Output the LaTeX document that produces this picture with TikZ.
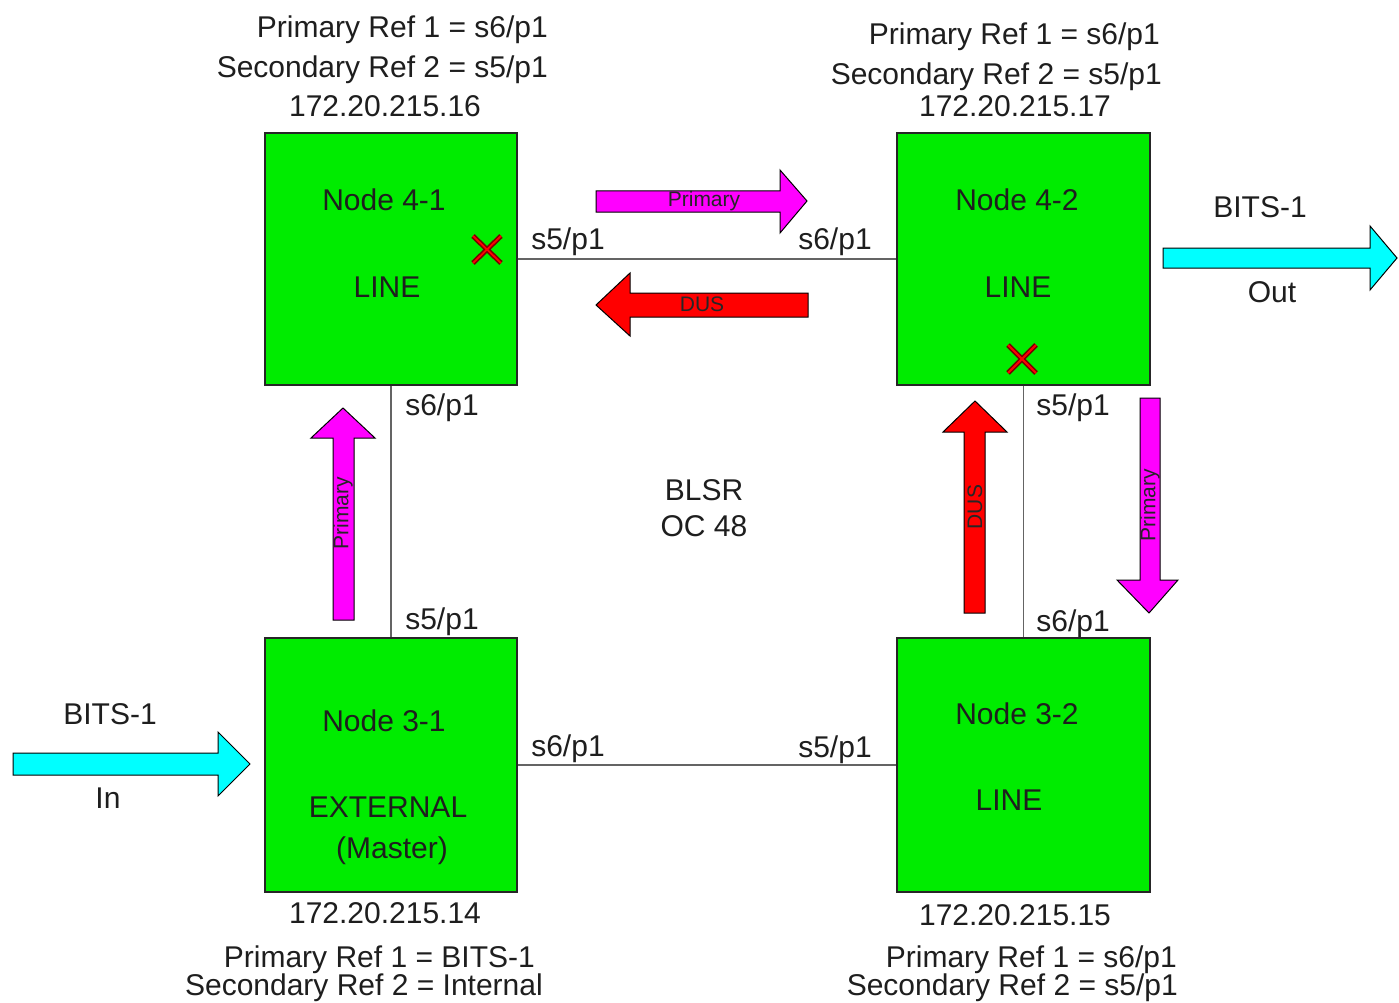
\documentclass[tikz,border=0pt]{standalone}
\usepackage{fontspec}
\setmainfont{Liberation Sans}
\definecolor{boxgreen}{RGB}{0,236,0}
\definecolor{mag}{RGB}{255,0,255}
\definecolor{cy}{RGB}{0,255,255}
\definecolor{rd}{RGB}{255,0,0}
\definecolor{xdark}{RGB}{120,0,0}
\definecolor{txtgray}{RGB}{30,30,30}
\definecolor{linegray}{RGB}{100,100,100}
\begin{document}
\begin{tikzpicture}[x=1pt,y=-1pt,
  box/.style={draw=black!85, fill=boxgreen, minimum width=252pt, minimum height=254pt, inner sep=0pt, line width=1.2pt},
  link/.style={draw=linegray, line width=1.6pt},
  lbl/.style={font=\fontsize{30}{31}\selectfont, text=txtgray, inner sep=0pt, anchor=base},
  lblr/.style={lbl, anchor=base east},
  alab/.style={font=\fontsize{21}{22}\selectfont, text=black!85, inner sep=0pt},
  fat/.style={draw=black, line width=1pt, line join=miter},
  xmark/.style={line width=5pt, draw=xdark},
  xin/.style={line width=1.8pt, draw=rd}
]
\fill[white] (0,0) rectangle (1399,1003);
\useasboundingbox (0,0) rectangle (1399,1003);

% boxes
\node[box, minimum height=252pt] (n41) at (391,259) {};
\node[box, minimum width=253pt, minimum height=252pt] (n42) at (1023.5,259) {};
\node[box] (n31) at (391,765) {};
\node[box, minimum width=253pt] (n32) at (1023.5,765) {};

% links
\draw[link] (n41) -- (n42);
\draw[link] (n31) -- (n32);
\draw[link] (n41) -- (n31);
\draw[link] (n42) -- (n32);

% box texts
\node[lbl] (t41a) at (384,211) {Node 4-1};
\node[lbl] (t41b) at (387,297) {LINE};
\node[lbl] (t42a) at (1017,211) {Node 4-2};
\node[lbl] (t42b) at (1018,297) {LINE};
\node[lbl] (t31a) at (384,731) {Node 3-1};
\node[lbl] (t31b) at (388,817) {EXTERNAL};
\node[lbl] (t31c) at (392,858) {(Master)};
\node[lbl] (t32a) at (1017,724) {Node 3-2};
\node[lbl] (t32b) at (1009,810) {LINE};

% port labels
\node[lbl] (p1) at (568,249) {s5/p1};
\node[lbl] (p2) at (835,249) {s6/p1};
\node[lbl] (p3) at (442,415) {s6/p1};
\node[lbl] (p4) at (442,629) {s5/p1};
\node[lbl] (p5) at (1073,415) {s5/p1};
\node[lbl] (p6) at (1073,631) {s6/p1};
\node[lbl] (p7) at (568,756) {s6/p1};
\node[lbl] (p8) at (835,757) {s5/p1};

% ring label
\node[lbl] (ring1) at (704,500) {BLSR};
\node[lbl] (ring2) at (704,536) {OC 48};

% reference texts
\node[lblr] (r1a) at (548,38) {Primary Ref 1 = s6/p1};
\node[lblr] (r1b) at (548,78) {Secondary Ref 2 = s5/p1};
\node[lbl] (r1c) at (385,117) {172.20.215.16};
\node[lblr] (r2a) at (1160,45) {Primary Ref 1 = s6/p1};
\node[lblr] (r2b) at (1162,85) {Secondary Ref 2 = s5/p1};
\node[lbl] (r2c) at (1015,117) {172.20.215.17};
\node[lbl] (r3c) at (385,923) {172.20.215.14};
\node[lblr] (r3a) at (535,967) {Primary Ref 1 = BITS-1};
\node[lblr] (r3b) at (543,995) {Secondary Ref 2 = Internal};
\node[lbl] (r4c) at (1015,925) {172.20.215.15};
\node[lblr] (r4a) at (1177,967) {Primary Ref 1 = s6/p1};
\node[lblr] (r4b) at (1178,995) {Secondary Ref 2 = s5/p1};

% BITS arrows
\draw[fat, fill=cy] (13,753) -- (218,753) -- (218,732) -- (250,764) -- (218,796) -- (218,775) -- (13,775) -- cycle;
\draw[fat, fill=cy] (1163,248) -- (1370,248) -- (1370,226) -- (1397,258) -- (1370,290) -- (1370,268) -- (1163,268) -- cycle;
\node[lbl] (bin) at (110,724) {BITS-1};
\node[lbl] (bint) at (108,808) {In};
\node[lbl] (bout) at (1260,218) {BITS-1};
\node[lbl] (boutt) at (1272,302) {Out};

% timing arrows
\draw[fat, fill=mag] (596,191) -- (780,191) -- (780,170) -- (807,201) -- (780,233) -- (780,212) -- (596,212) -- cycle;
\node[alab] (a1) at (704,201) {Primary};
\draw[fat, fill=rd] (808,293) -- (630,293) -- (630,273) -- (596,305) -- (630,336) -- (630,317) -- (808,317) -- cycle;
\node[alab] (a2) at (702,304) {DUS};
\draw[fat, fill=mag] (333,620) -- (333,438) -- (311,438) -- (343,408) -- (375,438) -- (354,438) -- (354,620) -- cycle;
\node[alab, rotate=90] (a3) at (343,513) {Primary};
\draw[fat, fill=rd] (964,613) -- (964,432) -- (943,432) -- (975,401) -- (1007,432) -- (985,432) -- (985,613) -- cycle;
\node[alab, rotate=90] (a4) at (975,507) {DUS};
\draw[fat, fill=mag] (1140,398) -- (1160,398) -- (1160,580) -- (1178,580) -- (1149,613) -- (1117,580) -- (1140,580) -- cycle;
\node[alab, rotate=90] (a5) at (1150,505) {Primary};

% failure marks
\draw[xmark] (473,236) -- (501,263) (473,263) -- (501,236);
\draw[xin] (473,236) -- (501,263) (473,263) -- (501,236);
\draw[xmark] (1008,345) -- (1036,373) (1008,373) -- (1036,345);
\draw[xin] (1008,345) -- (1036,373) (1008,373) -- (1036,345);
\end{tikzpicture}
\end{document}
